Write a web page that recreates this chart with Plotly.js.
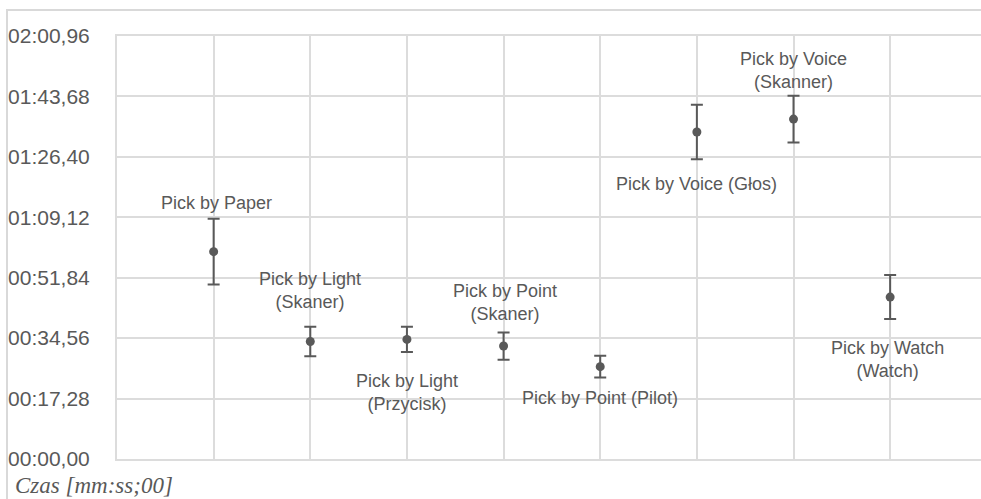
<!DOCTYPE html>
<html>
<head>
<meta charset="utf-8">
<script src="https://cdn.plot.ly/plotly-3.0.1.min.js"></script>
<style>
  body { margin: 0; background: #fff; }
  #frame { position: absolute; left: 6px; top: 9px; width: 1100px; height: 600px;
           border-left: 2px solid #d9d9d9; border-top: 2px solid #d9d9d9; }
  #chart { position: absolute; left: 0; top: 0; width: 981px; height: 499px; }
</style>
</head>
<body>
<div id="frame"></div>
<div id="chart"></div>
<script>
// metody kompletacji i średni czas (sekundy)
const methods = [
  "Pick by Paper",
  "Pick by Light<br>(Skaner)",
  "Pick by Light<br>(Przycisk)",
  "Pick by Point<br>(Skaner)",
  "Pick by Point (Pilot)",
  "Pick by Voice (Głos)",
  "Pick by Voice<br>(Skanner)",
  "Pick by Watch<br>(Watch)"
];
const meanTime = [59.3, 33.6, 34.2, 32.3, 26.4, 93.5, 97.2, 46.3];
const errTime  = [9.4, 4.2, 3.6, 3.9, 3.1, 7.8, 6.7, 6.3];

const tickSeconds = [0, 17.28, 34.56, 51.84, 69.12, 86.4, 103.68, 120.96];
const tickLabels  = ["00:00,00", "00:17,28", "00:34,56", "00:51,84",
                     "01:09,12", "01:26,40", "01:43,68", "02:00,96"];

// przesunięcie etykiet względem punktu (px)
const labelDy = [49, 51, -53, 44, -31, -52, 49, -62];
const labelDx = [3, 0, 0, 1, 0, 0, 0, -3];

const xs = methods.map((m, i) => i + 1);
const grey = "#595959";
const gridCol = "#dcdcdc";

const annotations = methods.map((m, i) => ({
  x: xs[i], y: meanTime[i], xref: "x", yref: "y",
  text: m, showarrow: false, xanchor: "center", yanchor: "middle",
  xshift: labelDx[i], yshift: labelDy[i],
  font: {family: "Liberation Sans, Arial, sans-serif", size: 18, color: grey}
}));

annotations.push({
  xref: "paper", yref: "paper", x: -0.12, y: -0.062,
  xanchor: "left", yanchor: "middle", showarrow: false,
  text: "<i>Czas [mm:ss;00]</i>",
  font: {family: "Liberation Serif, Times New Roman, serif", size: 23, color: grey}
});

Plotly.newPlot("chart", [{
  x: xs,
  y: meanTime,
  mode: "markers",
  type: "scatter",
  marker: {size: 9, color: grey},
  error_y: {type: "data", array: errTime, visible: true, color: grey, thickness: 2, width: 6},
  hoverinfo: "y"
}], {
  width: 981, height: 499,
  margin: {l: 116.5, r: 0, t: 36, b: 40},
  paper_bgcolor: "rgba(0,0,0,0)",
  plot_bgcolor: "rgba(0,0,0,0)",
  showlegend: false,
  xaxis: {
    range: [0, 8.94], dtick: 1, tick0: 0, showticklabels: false,
    showgrid: true, gridcolor: gridCol, gridwidth: 2, zeroline: false,
    showline: true, mirror: true, linecolor: gridCol, linewidth: 2
  },
  yaxis: {
    range: [0, 120.96], tickvals: tickSeconds, ticktext: tickLabels,
    showgrid: true, gridcolor: gridCol, gridwidth: 2, zeroline: false,
    showline: true, linecolor: gridCol, linewidth: 2,
    ticks: "", ticklabelstandoff: 21,
    tickfont: {family: "Liberation Sans, Arial, sans-serif", size: 21, color: grey}
  },
  annotations: annotations
}, {staticPlot: true});
</script>
</body>
</html>
